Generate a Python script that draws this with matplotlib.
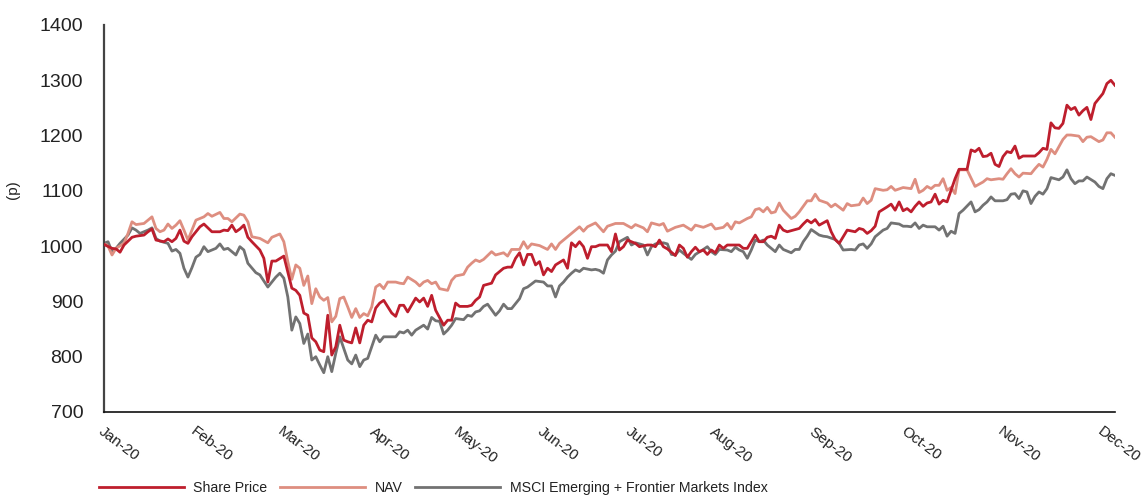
import matplotlib
matplotlib.use("Agg")
import matplotlib.pyplot as plt

plt.rcParams['font.family'] = ['Liberation Sans', 'DejaVu Sans']

# ---- data (trading-day index, value in pence) ----
share_day = [0, 2, 3, 4, 5, 7, 8, 10, 11, 12, 13, 15, 16, 17, 18, 19, 20, 21, 22, 24, 25, 27, 29, 30,
             31, 32, 33, 34, 35, 36, 37, 39, 40, 41, 42, 43, 45, 47, 48, 49, 50, 51, 52, 53, 54, 55,
             56, 57, 58, 59, 60, 61, 62, 63, 64, 65, 66, 67, 68, 69, 70, 72, 73, 74, 75, 76, 78, 79,
             80, 81, 82, 83, 85, 86, 87, 88, 89, 91, 92, 93, 94, 95, 97, 98, 100, 101, 102, 103, 104,
             105, 106, 107, 108, 109, 110, 111, 112, 113, 115, 116, 117, 118, 119, 120, 121, 122, 123,
             124, 126, 127, 128, 129, 130, 131, 133, 134, 136, 137, 138, 139, 140, 141, 143, 144, 145,
             146, 147, 148, 149, 150, 151, 152, 153, 154, 155, 156, 158, 159, 160, 161, 163, 164, 165,
             166, 167, 168, 169, 170, 171, 173, 174, 175, 176, 177, 178, 179, 181, 182, 183, 184, 185,
             186, 188, 189, 190, 191, 192, 193, 194, 196, 197, 198, 199, 200, 201, 202, 203, 204, 205,
             206, 207, 208, 209, 210, 211, 212, 213, 214, 216, 217, 218, 219, 220, 221, 222, 223, 224,
             225, 226, 227, 228, 229, 230, 232, 233, 234, 235, 236, 237, 238, 239, 240, 241, 242, 243,
             244, 245, 246, 247, 248, 249, 250, 251, 252, 253]
share_val = [1003, 996, 995, 989, 1002, 1016, 1018, 1020, 1026, 1031, 1011, 1008, 1013, 1008, 1014, 1029,
             1009, 1005, 1017, 1035, 1040, 1026, 1026, 1029, 1028, 1038, 1026, 1031, 1038, 1016, 1008,
             993, 978, 935, 973, 973, 982, 924, 920, 911, 879, 875, 834, 827, 812, 809, 875, 803, 818,
             857, 830, 827, 825, 852, 825, 857, 866, 863, 888, 897, 902, 879, 873, 893, 893, 881, 906,
             899, 906, 891, 911, 884, 857, 866, 866, 897, 891, 891, 893, 902, 908, 929, 933, 948, 960,
             962, 962, 978, 988, 966, 985, 985, 966, 972, 948, 960, 954, 966, 975, 960, 1006, 999, 1008,
             999, 978, 999, 999, 1002, 1002, 990, 1022, 993, 999, 1011, 1005, 999, 1002, 1002, 999, 1011,
             999, 995, 983, 1002, 996, 980, 990, 998, 990, 993, 985, 993, 988, 1002, 996, 1002, 1002,
             1002, 996, 996, 1020, 1008, 1008, 1016, 1018, 1014, 1038, 1029, 1026, 1030, 1032, 1040,
             1047, 1042, 1048, 1038, 1046, 1026, 1012, 1005, 1017, 1029, 1026, 1032, 1030, 1023, 1028,
             1036, 1062, 1071, 1076, 1065, 1080, 1064, 1068, 1062, 1072, 1080, 1072, 1078, 1080, 1094,
             1076, 1083, 1080, 1101, 1122, 1139, 1139, 1174, 1171, 1177, 1162, 1163, 1168, 1148, 1144,
             1162, 1171, 1169, 1181, 1159, 1163, 1163, 1163, 1169, 1177, 1175, 1223, 1214, 1213, 1222,
             1255, 1247, 1251, 1237, 1245, 1251, 1229, 1258, 1267, 1276, 1294, 1300, 1291]

nav_day = [0, 1, 2, 3, 5, 6, 7, 8, 10, 11, 12, 13, 14, 15, 16, 17, 18, 19, 20, 21, 22, 23, 25, 26, 27,
           29, 30, 31, 32, 34, 35, 36, 37, 39, 41, 42, 44, 45, 46, 47, 48, 49, 50, 51, 52, 53, 54, 55,
           56, 57, 58, 59, 60, 61, 62, 63, 64, 65, 66, 67, 68, 69, 70, 71, 73, 74, 75, 76, 78, 79, 80,
           81, 82, 83, 84, 86, 87, 88, 90, 91, 92, 93, 94, 95, 97, 98, 100, 101, 102, 104, 105, 106,
           107, 109, 111, 112, 113, 114, 116, 117, 119, 120, 121, 123, 125, 126, 128, 130, 132, 133,
           135, 136, 137, 139, 140, 141, 143, 145, 147, 148, 150, 152, 153, 155, 156, 157, 158, 159,
           161, 162, 163, 164, 165, 166, 167, 168, 169, 170, 172, 173, 174, 176, 177, 178, 179, 181,
           182, 183, 185, 186, 187, 189, 190, 191, 192, 193, 195, 196, 197, 198, 200, 201, 202, 203,
           204, 205, 206, 207, 208, 209, 210, 211, 212, 213, 214, 215, 216, 218, 220, 221, 222, 224,
           225, 226, 227, 228, 229, 230, 232, 233, 234, 235, 236, 237, 238, 240, 241, 242, 244, 245,
           246, 247, 249, 250, 251, 252, 253]
nav_val = [1005, 1000, 984, 996, 1005, 1023, 1044, 1039, 1041, 1047, 1053, 1032, 1026, 1029, 1040, 1032,
           1038, 1046, 1029, 1011, 1029, 1047, 1053, 1059, 1054, 1061, 1050, 1050, 1044, 1058, 1056,
           1044, 1017, 1014, 1006, 1016, 1022, 1008, 972, 940, 966, 960, 929, 946, 896, 923, 908, 902,
           907, 863, 873, 905, 908, 890, 871, 887, 871, 878, 874, 890, 926, 931, 923, 935, 935, 933,
           932, 944, 935, 928, 935, 938, 932, 935, 923, 920, 938, 946, 949, 962, 969, 975, 972, 976,
           990, 984, 988, 982, 994, 994, 1008, 996, 1004, 1001, 994, 1004, 994, 1005, 1017, 1023, 1035,
           1027, 1035, 1042, 1026, 1036, 1041, 1041, 1033, 1039, 1033, 1026, 1042, 1038, 1041, 1027,
           1034, 1038, 1029, 1038, 1034, 1040, 1031, 1034, 1041, 1031, 1044, 1042, 1050, 1053, 1066,
           1068, 1062, 1070, 1060, 1062, 1078, 1065, 1050, 1054, 1062, 1082, 1082, 1094, 1083, 1078,
           1071, 1076, 1065, 1077, 1073, 1075, 1087, 1077, 1083, 1104, 1101, 1102, 1108, 1101, 1106,
           1105, 1104, 1121, 1097, 1101, 1108, 1104, 1110, 1110, 1122, 1101, 1106, 1095, 1138, 1138,
           1138, 1108, 1116, 1122, 1120, 1122, 1121, 1131, 1140, 1131, 1125, 1132, 1131, 1140, 1148,
           1143, 1157, 1175, 1167, 1193, 1201, 1201, 1199, 1189, 1197, 1198, 1189, 1192, 1205, 1205,
           1197]

msci_day = [0, 1, 2, 3, 4, 6, 7, 8, 9, 11, 12, 13, 14, 16, 17, 18, 19, 20, 21, 22, 23, 24, 25, 26, 28,
            29, 30, 31, 33, 34, 35, 36, 38, 39, 41, 42, 43, 44, 45, 46, 47, 48, 49, 50, 51, 52, 53, 54,
            55, 56, 57, 58, 59, 60, 61, 62, 63, 64, 65, 66, 68, 69, 70, 72, 73, 74, 75, 76, 77, 78, 80,
            81, 82, 83, 84, 85, 86, 87, 88, 90, 91, 92, 93, 94, 95, 96, 98, 99, 100, 101, 102, 104, 105,
            106, 108, 110, 111, 112, 113, 114, 115, 116, 117, 118, 119, 120, 122, 123, 124, 125, 126,
            127, 128, 129, 130, 131, 132, 133, 135, 136, 137, 138, 140, 141, 142, 143, 144, 145, 147,
            148, 150, 151, 152, 153, 154, 156, 157, 158, 159, 160, 161, 162, 163, 164, 165, 166, 168,
            169, 170, 172, 173, 174, 175, 176, 177, 179, 180, 181, 183, 184, 185, 187, 188, 189, 190,
            191, 192, 193, 195, 196, 197, 199, 200, 201, 202, 203, 204, 205, 206, 208, 209, 210, 211,
            212, 213, 214, 215, 217, 218, 219, 220, 221, 222, 223, 225, 226, 227, 228, 229, 230, 231,
            232, 233, 234, 235, 236, 237, 238, 239, 240, 241, 242, 243, 244, 245, 246, 248, 249, 250,
            251, 252, 253]
msci_val = [1005, 1008, 990, 996, 1005, 1020, 1033, 1029, 1023, 1029, 1033, 1014, 1009, 1005, 991, 994,
            987, 960, 944, 961, 980, 985, 999, 990, 996, 1004, 994, 996, 984, 999, 993, 969, 952, 948,
            926, 935, 944, 951, 942, 908, 848, 872, 860, 824, 841, 794, 800, 785, 771, 800, 773, 806,
            836, 815, 794, 787, 803, 782, 794, 797, 839, 827, 836, 836, 836, 845, 843, 848, 839, 848,
            857, 850, 871, 865, 864, 841, 848, 857, 869, 867, 875, 873, 881, 883, 891, 895, 875, 883,
            895, 887, 887, 905, 923, 926, 937, 935, 928, 928, 908, 928, 935, 944, 951, 957, 954, 960,
            957, 958, 956, 951, 975, 984, 991, 1008, 1012, 1016, 1002, 1006, 1002, 984, 999, 1004, 1006,
            1004, 985, 984, 993, 987, 976, 985, 994, 999, 990, 985, 994, 993, 990, 998, 993, 990, 978,
            993, 1011, 1008, 1011, 1002, 990, 1002, 994, 988, 994, 994, 1008, 1018, 1030, 1020, 1018,
            1017, 1012, 1005, 993, 994, 993, 1002, 1004, 996, 1004, 1017, 1029, 1032, 1042, 1040, 1036,
            1036, 1035, 1042, 1032, 1038, 1035, 1035, 1029, 1036, 1018, 1027, 1023, 1059, 1065, 1080,
            1062, 1066, 1074, 1080, 1089, 1082, 1082, 1084, 1094, 1095, 1086, 1100, 1098, 1077, 1090,
            1098, 1094, 1104, 1124, 1122, 1120, 1125, 1138, 1122, 1113, 1118, 1118, 1125, 1116, 1108,
            1104, 1122, 1131, 1128]

month_ticks = [0, 23, 45, 68, 89, 110, 132, 153, 178, 201, 225, 250]
month_labels = ['Jan-20', 'Feb-20', 'Mar-20', 'Apr-20', 'May-20', 'Jun-20', 'Jul-20', 'Aug-20',
                'Sep-20', 'Oct-20', 'Nov-20', 'Dec-20']
y_ticks = [700, 800, 900, 1000, 1100, 1200, 1300, 1400]

RED = '#BE1E2D'
SALMON = '#DE8E80'
GREY = '#727272'

fig = plt.figure(figsize=(11.47, 4.95), dpi=100)
ax = fig.add_axes([0.0907, 0.1677, 0.8813, 0.7818])

ax.plot(share_day, share_val, color=RED, lw=2.0, label='Share Price', zorder=3)
ax.plot(nav_day, nav_val, color=SALMON, lw=2.0, label='NAV', zorder=2)
ax.plot(msci_day, msci_val, color=GREY, lw=2.0,
        label='MSCI Emerging + Frontier Markets Index', zorder=1)

ax.set_xlim(0, 253)
ax.set_ylim(700, 1400)
ax.set_yticks(y_ticks)
ax.set_yticklabels([str(v) for v in y_ticks], fontsize=14, color='#222222')
ax.set_xticks(month_ticks)
ax.set_xticklabels(month_labels, fontsize=11, color='#222222', rotation=-37,
                   ha='left', va='top', rotation_mode='anchor')
ax.tick_params(axis='x', length=0, pad=9)
ax.tick_params(axis='y', length=0, pad=15)
ax.set_ylabel('(p)', fontsize=11, color='#222222')
ax.yaxis.set_label_coords(-0.083, 0.574)

for s in ['top', 'right']:
    ax.spines[s].set_visible(False)
ax.spines['left'].set_color('#444444')
ax.spines['left'].set_linewidth(1.6)
ax.spines['bottom'].set_color('#111111')
ax.spines['bottom'].set_linewidth(1.2)

leg = fig.legend(loc='center left', bbox_to_anchor=(99 / 1147, 1 - 488 / 495), ncol=3,
                 frameon=False, borderpad=0, borderaxespad=0,
                 fontsize=10.2, handlelength=6.0, handletextpad=0.67, columnspacing=0.9)
for t in leg.get_texts():
    t.set_color('#222222')

fig.savefig('out.png', dpi=100)
